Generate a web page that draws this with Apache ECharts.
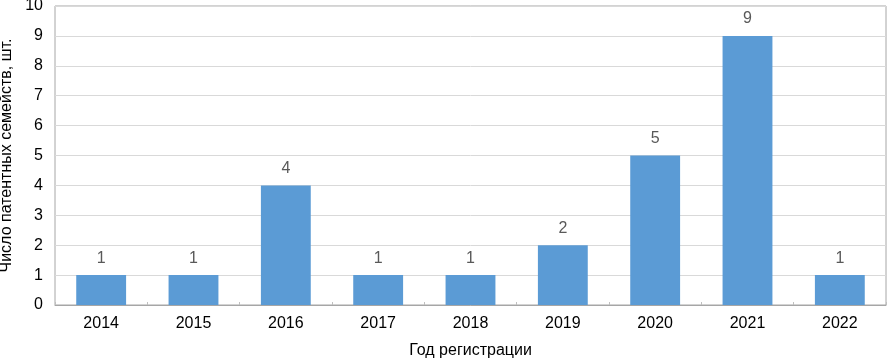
<!DOCTYPE html>
<html>
<head>
<meta charset="utf-8">
<script src="https://cdn.jsdelivr.net/npm/echarts@6/dist/echarts.min.js"></script>
<style>
  html, body { margin: 0; padding: 0; background: #fff; }
  #chart { width: 888px; height: 359px; }
</style>
</head>
<body>
<div id="chart"></div>
<script>
// годы регистрации
var years = ['2014', '2015', '2016', '2017', '2018', '2019', '2020', '2021', '2022'];
// число патентных семейств
var counts = [1, 1, 4, 1, 1, 2, 5, 9, 1];

var chart = echarts.init(document.getElementById('chart'), null, { renderer: 'canvas' });

var option = {
  animation: false,
  textStyle: { fontFamily: 'Liberation Sans, Arial, sans-serif' },
  grid: {
    left: 55,
    right: 2,
    top: 6,
    bottom: 54,
    outerBoundsMode: 'none',
    containLabel: false,
    show: true,
    borderColor: '#a6a6a6',
    borderWidth: 1
  },
  xAxis: {
    type: 'category',
    data: years,
    name: 'Год регистрации',
    nameLocation: 'middle',
    nameGap: 38,
    nameTextStyle: { color: '#000', fontSize: 16 },
    axisLine: { lineStyle: { color: '#a6a6a6' } },
    axisTick: { show: true, inside: true, length: 3, lineStyle: { color: '#bfbfbf' } },
    axisLabel: { color: '#000', fontSize: 16, margin: 11 }
  },
  yAxis: {
    type: 'value',
    min: 0,
    max: 10,
    interval: 1,
    name: 'Число патентных семейств, шт.',
    nameLocation: 'middle',
    nameGap: 38,
    nameTextStyle: { color: '#000', fontSize: 16 },
    axisLine: { show: false },
    axisTick: { show: false },
    axisLabel: { color: '#000', fontSize: 16, margin: 12 },
    splitLine: { lineStyle: { color: '#d9d9d9' } }
  },
  series: [{
    type: 'bar',
    data: counts,
    barWidth: '54%',
    itemStyle: { color: '#5b9bd5' },
    label: {
      show: true,
      position: 'top',
      distance: 9,
      color: '#595959',
      fontSize: 16
    }
  }]
};

chart.setOption(option);
</script>
</body>
</html>
